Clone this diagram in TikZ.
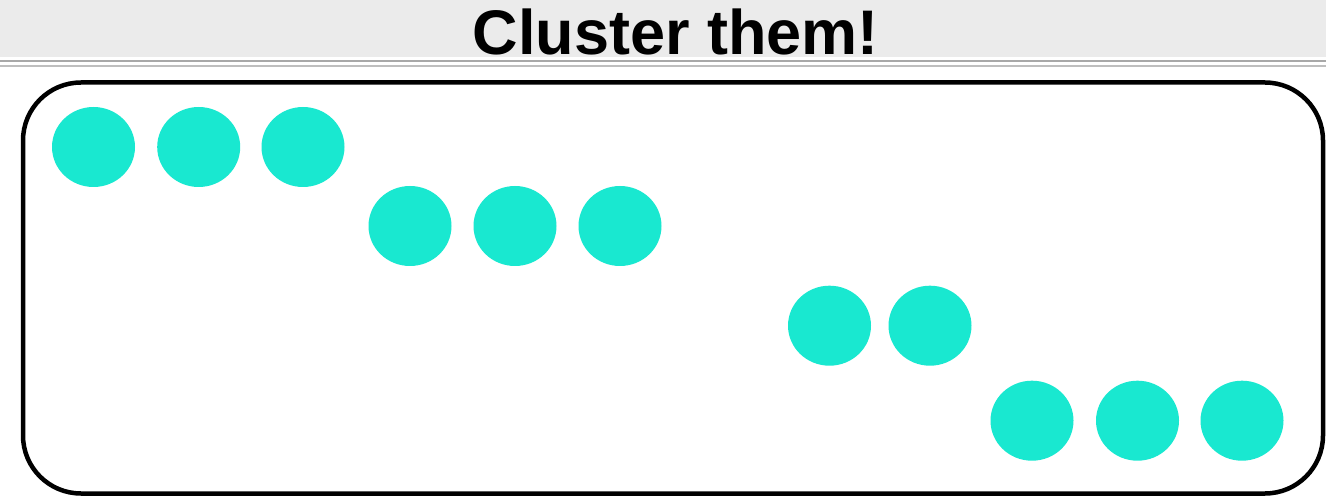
\documentclass[tikz,border=0pt]{standalone}
\usepackage{fontspec}
\setmainfont{Liberation Sans}
\definecolor{band}{RGB}{235,235,235}
\definecolor{lineA}{RGB}{168,168,168}
\definecolor{lineB}{RGB}{190,190,190}
\definecolor{dot}{RGB}{25,232,208}
\tikzset{
  blob/.style={ellipse, fill=dot, minimum width=83pt, minimum height=80pt, inner sep=0pt},
  frame/.style={draw=black, line width=4.5pt, rounded corners=58pt}
}
\usetikzlibrary{shapes.geometric}
\begin{document}
\begin{tikzpicture}[x=1pt,y=-1pt]
\useasboundingbox (0,0) rectangle (1326,497);
\fill[white] (0,0) rectangle (1326,497);
\fill[band] (0,0) rectangle (1326,57);
\fill[lineA] (0,60) rectangle (1326,62.3);
\fill[lineB] (0,65) rectangle (1326,67.5);
\node[anchor=base, font=\bfseries\fontsize{63}{63}\selectfont, inner sep=0pt] (title) at (676,55) {Cluster them!};
\draw[frame] (23,82.5) rectangle (1323,493.5);
\node[blob] (a1) at (93.5,147) {};
\node[blob] (a2) at (198.7,147) {};
\node[blob] (a3) at (303,147) {};
\node[blob] (b1) at (410,226) {};
\node[blob] (b2) at (515,226) {};
\node[blob] (b3) at (620,226) {};
\node[blob] (c1) at (829.5,325.7) {};
\node[blob] (c2) at (930,325.7) {};
\node[blob] (d1) at (1032,420.7) {};
\node[blob] (d2) at (1137.5,420.7) {};
\node[blob] (d3) at (1242,420.7) {};
\end{tikzpicture}
\end{document}
